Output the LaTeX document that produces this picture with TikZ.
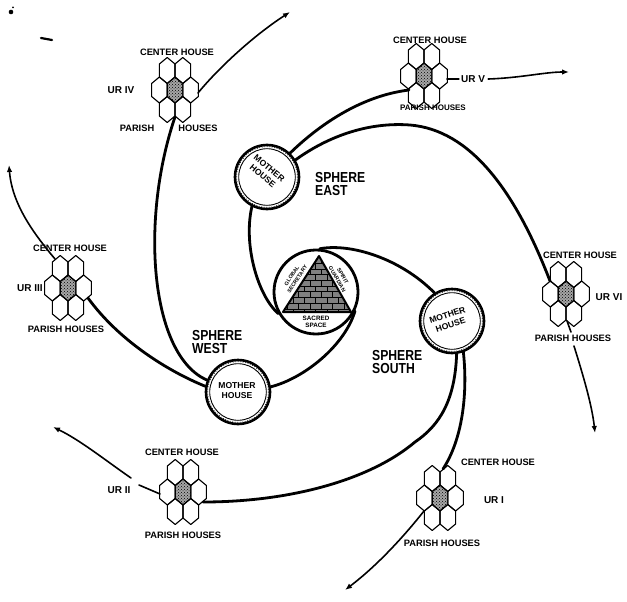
\documentclass[tikz,border=0pt]{standalone}
\usepackage{fontspec}
\setmainfont{Liberation Sans}
\usepackage{graphicx}
\usetikzlibrary{arrows.meta,patterns}
\newcommand{\sqz}[1]{\scalebox{0.84}[1]{#1}}
\begin{document}
\begin{tikzpicture}[x=1pt,y=-1pt,
  arm/.style={line width=2.8pt, line cap=round},
  outarm/.style={line width=1.6pt, line cap=round, -{Latex[length=7pt,width=5.5pt]}},
  thinarm/.style={line width=1.6pt, line cap=round},
  hexline/.style={line width=1.1pt, line join=round},
  lbl/.style={font=\bfseries\fontsize{9.3}{10}\selectfont, inner sep=0pt},
  ur/.style={font=\bfseries\fontsize{10}{10}\selectfont, inner sep=0pt},
  sph/.style={font=\bfseries\fontsize{14.5}{13}\selectfont, inner sep=0pt, align=left, anchor=north west},
  mht/.style={font=\bfseries\fontsize{8.6}{10}\selectfont, inner sep=0pt, align=center},
  tri/.style={font=\bfseries\fontsize{5.3}{6.5}\selectfont, inner sep=0pt, align=center},
  mh/.style={circle, draw, line width=2.6pt, minimum size=64pt, inner sep=0pt},
  hexcell/.pic={\draw[hexline] (0,-13) -- (7.8,-6.5) -- (7.8,6.5) -- (0,13) -- (-7.8,6.5) -- (-7.8,-6.5) -- cycle;},
  cluster/.pic={
    \fill[black!35] (0,-13) -- (7.8,-6.5) -- (7.8,6.5) -- (0,13) -- (-7.8,6.5) -- (-7.8,-6.5) -- cycle;
    \fill[pattern=crosshatch dots, pattern color=black] (0,-13) -- (7.8,-6.5) -- (7.8,6.5) -- (0,13) -- (-7.8,6.5) -- (-7.8,-6.5) -- cycle;
    \foreach \dx/\dy in {0/0,-15.6/0,15.6/0,-7.8/-19.5,7.8/-19.5,-7.8/19.5,7.8/19.5} {\pic at (\dx,\dy) {hexcell};}
  }
]
\useasboundingbox (0,0) rectangle (627,602);

% scan specks
\fill (11,12) circle[radius=2.3];
\fill (13,7.5) circle[radius=1];
\draw[line width=2.2pt, line cap=round] (41,38) -- (52,40);

% ---------- centre ----------
\node[circle, draw, line width=2.8pt, minimum size=84pt, inner sep=0pt] (cc) at (316,292) {};
\coordinate (tA) at (319,256);
\coordinate (tB) at (283,312);
\coordinate (tC) at (351,312);
\fill[black!50] (tA) -- (tB) -- (tC) -- cycle;
\fill[pattern=bricks, pattern color=black] (tA) -- (tB) -- (tC) -- cycle;
\draw[line width=2pt, line join=round] (tA) -- (tB) -- (tC) -- cycle;
\node[tri, rotate=57] (tgl) at (294.5,277.5) {GLOBAL\\SECRETARY};
\node[tri, rotate=-60] (tsp) at (340,277.5) {SPIRIT\\GUARDIAN};
\node[tri, font=\bfseries\fontsize{6.3}{7.5}\selectfont] (tsa) at (316,322) {SACRED\\SPACE};

% ---------- mother houses ----------
\node[mh] (mhE) at (267,177) {};
\node[mh] (mhS) at (452,321) {};
\node[mh] (mhW) at (238,392) {};
\foreach \m in {mhE,mhS,mhW}{
  \draw[line width=0.9pt] (\m.center) circle[radius=28.3];
  \draw[line width=0.7pt, dash pattern=on 0.7pt off 1.8pt] (\m.center) circle[radius=30.3];
}
\node[mht, rotate=-40] (mhEt) at (266,172) {MOTHER\\HOUSE};
\node[mht, rotate=18] (mhSt) at (449,320) {MOTHER\\HOUSE};
\node[mht] (mhWt) at (237,391) {MOTHER\\HOUSE};

\node[sph] (sE) at (315,172) {\sqz{SPHERE}\\\sqz{EAST}};
\node[sph] (sS) at (372,350) {\sqz{SPHERE}\\\sqz{SOUTH}};
\node[sph] (sW) at (192,330) {\sqz{SPHERE}\\\sqz{WEST}};

% ---------- UR clusters ----------
\pic at (175,90) {cluster};
\pic at (424,76) {cluster};
\pic at (68,288) {cluster};
\pic at (566,294) {cluster};
\pic at (183,492) {cluster};
\pic at (440,498) {cluster};

% attachment points
\coordinate (u4in) at (175,117);  \coordinate (u4out) at (198,93);  \coordinate (a4) at (290,12);
\coordinate (u5in) at (409,90);   \coordinate (u5out) at (447,79);  \coordinate (a5) at (569,72);
\coordinate (u3in) at (88,298);   \coordinate (u3out) at (55,259);  \coordinate (a3) at (9,165);
\coordinate (u6in) at (550,281);  \coordinate (u6out) at (567,321); \coordinate (a6) at (595,433);
\coordinate (u2in) at (203,502);  \coordinate (u2out) at (160,494); \coordinate (a2) at (53,427);
\coordinate (u1in) at (443,469);  \coordinate (u1out) at (424,511); \coordinate (a1) at (345,590);

% labels
\node[lbl] (c4) at (177,52) {CENTER HOUSE};
\node[ur]  (l4) at (121,90) {UR IV};
\node[lbl] (p4a) at (137,128) {PARISH};
\node[lbl] (p4b) at (198,128) {HOUSES};

\node[lbl] (c5) at (430,40) {CENTER HOUSE};
\node[ur]  (l5) at (473,79) {UR V};
\node[lbl, font=\bfseries\fontsize{8}{9}\selectfont] (p5) at (433,108) {PARISH HOUSES};

\node[lbl] (c3) at (70,248) {CENTER HOUSE};
\node[ur]  (l3) at (30,288) {UR III};
\node[lbl] (p3) at (66,329) {PARISH HOUSES};

\node[lbl] (c6) at (580,255) {CENTER HOUSE};
\node[ur]  (l6) at (609,297) {UR VI};
\node[lbl] (p6) at (573,338) {PARISH HOUSES};

\node[lbl] (c2) at (182,452) {CENTER HOUSE};
\node[ur]  (l2) at (119,490) {UR II};
\node[lbl] (p2) at (183,535) {PARISH HOUSES};

\node[lbl] (c1) at (498,462) {CENTER HOUSE};
\node[ur]  (l1) at (494,500) {UR I};
\node[lbl] (p1) at (442,543) {PARISH HOUSES};

% ---------- inner arms ----------
\draw[arm] (cc.210) .. controls (258,296) and (243,245) .. (mhE.243);
\draw[arm] (cc.85) .. controls (350,243) and (400,258) .. (mhS.122);
\draw[arm] (cc.-26) .. controls (345,345) and (305,378) .. (mhW.9);

% ---------- outer arms ----------
% east
\draw[arm] (mhE.46) .. controls (318,126) and (360,96) .. (u5in);
\draw[arm] (mhE.31) .. controls (330,135) and (370,122) .. (410,125)
           .. controls (470,130) and (515,190) .. (u6in);
% south
\draw[arm] (mhS.-70) .. controls (468,395) and (462,440) .. (u1in);
\draw[arm] (mhS.-82) .. controls (455,400) and (440,425) .. (415,442)
           .. controls (370,480) and (290,502) .. (u2in);
% west
\draw[arm] (mhW.170) .. controls (170,372) and (120,342) .. (u3in);
\draw[arm] (mhW.159) .. controls (150,355) and (140,220) .. (u4in);

% ---------- continuations with arrows ----------
\draw[outarm] (u4out) .. controls (215,72) and (250,38) .. (a4);
\draw[thinarm] (u5out) -- ([xshift=-2pt]l5.west);
\draw[outarm] ([xshift=3pt]l5.east) .. controls (520,78) and (545,72) .. (a5);
\draw[outarm] (u3out) .. controls (35,235) and (12,205) .. (a3);
\coordinate (j6a) at (571,332);
\coordinate (j6b) at (574,346);
\draw[thinarm] (u6out) -- (j6a);
\draw[outarm] (j6b) .. controls (583,375) and (592,405) .. (a6);
\coordinate (j2a) at (139,485);
\coordinate (j2b) at (131,478);
\draw[thinarm] (u2out) -- (j2a);
\draw[outarm] (j2b) .. controls (105,460) and (80,440) .. (a2);
\draw[outarm] (u1out) .. controls (405,535) and (378,565) .. (a1);
\end{tikzpicture}
\end{document}
